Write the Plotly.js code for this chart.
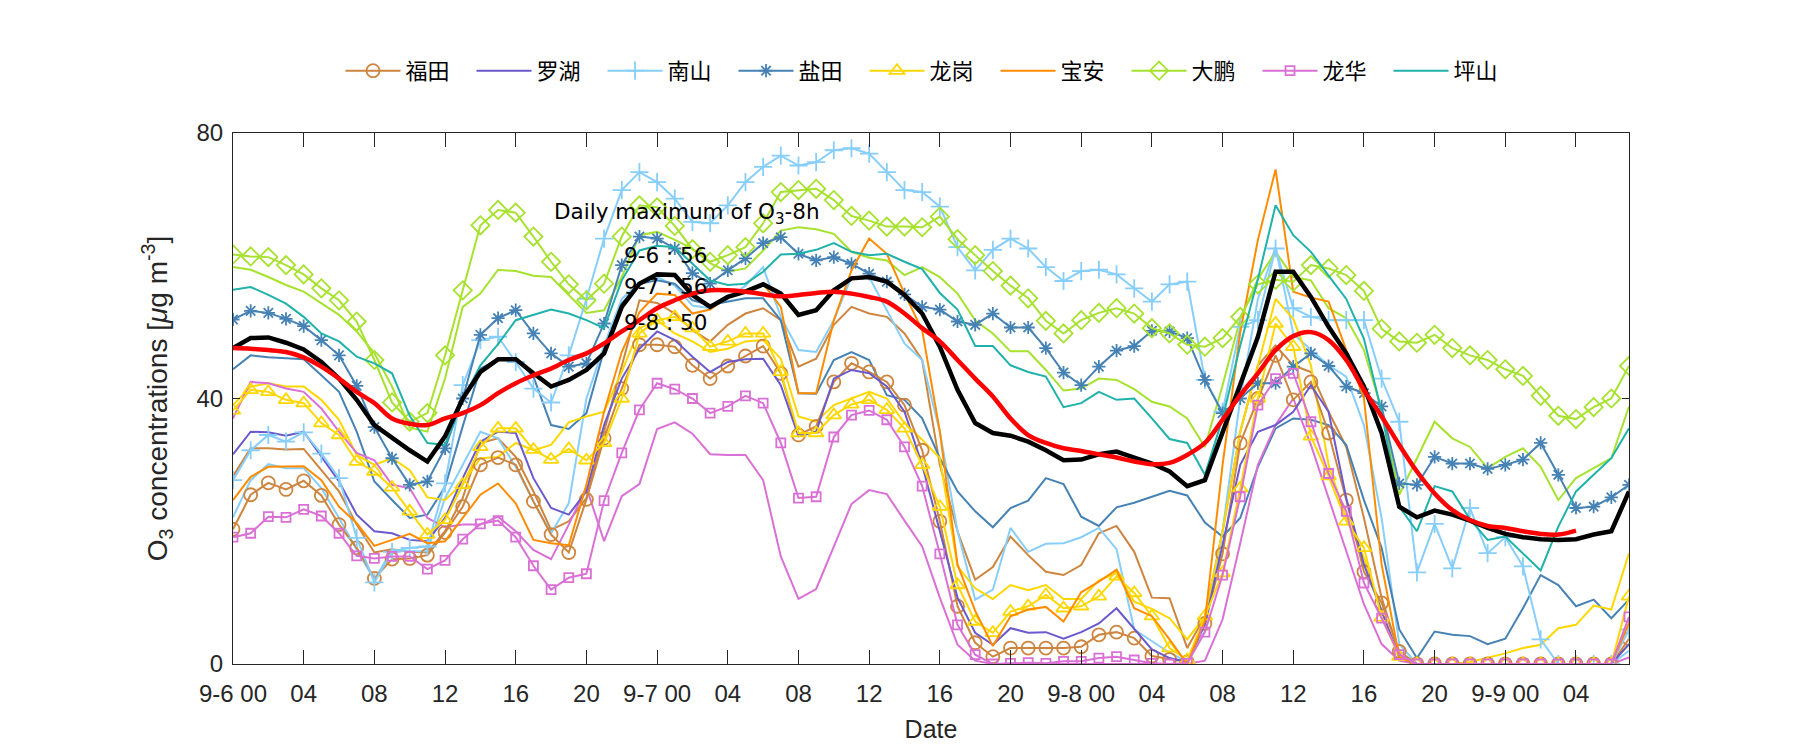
<!DOCTYPE html>
<html><head><meta charset="utf-8">
<script src="https://cdn.plot.ly/plotly-3.0.1.min.js"></script>
<style>html,body{margin:0;padding:0;background:#fff;}#chart{width:1800px;height:750px;}</style>
</head><body><div id="chart"></div>
<script>
// hour index since 9-6 00:00
const hours = [0,1,2,3,4,5,6,7,8,9,10,11,12,13,14,15,16,17,18,19,20,21,22,23,24,25,26,27,28,29,30,31,32,33,34,35,36,37,38,39,40,41,42,43,44,45,46,47,48,49,50,51,52,53,54,55,56,57,58,59,60,61,62,63,64,65,66,67,68,69,70,71,72,73,74,75,76,77,78,79];
const tickHours = [0,4,8,12,16,20,24,28,32,36,40,44,48,52,56,60,64,68,72,76];
const tickLabels = ['9-6 00','04','08','12','16','20','9-7 00','04','08','12','16','20','9-8 00','04','08','12','16','20','9-9 00','04'];
const stations = ['福田','罗湖','南山','盐田','龙岗','宝安','大鹏','龙华','坪山'];

// station series (legend)
const futian = [20.3,25.5,27.3,26.3,27.6,25.4,21.0,17.5,12.9,15.8,15.9,16.4,19.8,23.7,30.0,31.1,30.0,24.5,19.5,16.8,24.8,34.0,41.5,48.1,48.1,47.8,45.0,43.0,44.9,46.4,47.9,43.8,34.5,35.8,42.5,45.3,44.0,42.5,39.0,32.2,21.5,8.7,3.2,1.1,2.4,2.4,2.4,2.4,2.6,4.4,4.8,3.9,1.2,0.7,0.3,6.1,16.6,33.3,40.0,46.5,39.8,42.5,34.8,24.7,13.9,9.2,1.9,0,0,0,0,0,0,0,0,0,0,0,0,3.8];
const luohu = [31.6,35.0,34.9,34.4,35.0,31.2,27.5,22.5,20.0,19.7,18.7,18.5,22.0,28.0,33.5,35.0,34.8,28.0,23.5,22.5,26.0,36.0,43.0,47.5,50.1,48.8,46.3,44.0,45.5,45.9,46.0,42.0,34.3,35.0,43.0,44.3,43.8,41.8,38.0,30.0,20.0,10.0,4.7,2.9,5.4,4.7,4.8,3.8,4.8,6.1,8.4,5.3,2.2,0.9,0.3,6.0,18.0,30.0,35.0,36.0,38.0,42.0,38.0,25.0,15.0,8.0,1.0,0,0,0,0,0,0,0,0,0,0,0,0,3.0];
const nanshan = [27.7,32.2,34.5,33.5,34.9,31.7,28.0,19.0,12.3,16.9,17.5,17.7,27.2,42.0,48.8,49.3,45.5,41.5,39.4,46.5,55.0,64.1,71.4,74.1,72.6,70.1,66.6,66.4,69.1,72.6,74.9,76.6,75.1,75.6,77.4,77.7,76.9,74.1,71.4,71.1,68.9,62.8,59.3,62.4,64.1,62.6,59.8,57.7,59.2,59.4,58.7,56.6,54.6,57.2,57.6,42.8,38.0,50.8,51.8,62.6,53.6,52.3,51.8,51.8,51.8,43.0,36.5,13.8,21.1,14.4,23.5,16.7,19.1,14.7,3.7,0,0,0,0,5.2];
const yantian = [51.9,53.2,52.9,52.0,50.9,48.8,46.5,41.9,35.7,31.0,27.0,27.5,32.5,40.0,49.6,52.1,53.3,49.8,46.8,44.8,45.3,51.3,60.1,64.4,64.1,62.6,58.9,57.3,59.3,61.1,63.4,64.3,61.8,60.8,61.3,60.3,58.8,57.6,55.7,53.8,53.4,51.6,51.1,52.8,50.7,50.7,47.6,43.9,42.0,44.8,47.2,47.9,50.2,50.1,49.1,42.8,37.8,40.0,42.3,42.3,44.8,46.8,44.9,41.8,40.8,38.8,27.2,27.0,31.2,30.2,30.2,29.4,30.0,30.8,33.3,28.5,23.5,23.7,25.1,27.0];
const longgang = [38.2,41.3,41.0,39.8,39.3,36.3,34.5,30.5,29.0,26.6,23.0,19.5,21.7,27.0,32.7,35.5,35.5,32.3,30.8,32.4,30.7,33.3,40.0,49.8,51.8,52.3,50.6,47.8,48.6,49.8,49.8,44.0,34.8,34.8,37.5,39.1,39.8,38.3,35.5,30.0,23.7,11.9,6.4,4.7,7.9,8.7,10.4,8.4,8.7,10.2,13.2,10.7,7.2,2.4,0.6,7.2,13.7,26.5,40.0,51.3,47.8,34.3,28.3,21.5,17.5,7.0,1.1,0,0,0,0,0,0,0,0,0,0,0,0,10.2];
const baoan = [24.7,28.2,29.7,29.7,29.8,27.7,23.7,21.2,17.8,18.7,19.6,18.2,18.5,22.0,25.5,27.2,24.2,18.7,18.2,17.9,27.0,38.0,47.0,53.0,55.8,55.6,52.8,53.4,55.3,56.3,57.3,53.8,40.8,40.8,51.8,59.3,64.1,61.8,55.8,50.3,35.0,15.0,8.0,2.7,7.2,8.2,8.6,6.4,10.8,12.4,14.2,8.4,7.2,3.7,0,6.5,30.0,50.0,63.9,74.5,56.1,55.2,54.6,47.3,40.0,15.0,1.0,0,0,0,0,0,0,0,0,0,0,0,0,6.2];
const dapeng = [61.7,61.4,61.3,60.1,58.7,56.6,54.8,51.6,45.8,39.4,36.5,37.8,46.5,56.3,66.1,68.4,68.0,64.4,60.6,57.2,54.8,57.3,64.4,69.1,68.8,66.0,62.5,60.6,61.6,62.8,66.4,71.1,71.4,71.6,69.9,67.5,66.8,65.9,65.9,65.8,67.4,64.0,61.6,59.2,57.0,55.1,51.7,49.8,51.8,52.9,53.6,52.8,50.6,49.8,48.1,47.8,49.1,52.3,57.2,57.9,57.6,60.1,59.6,58.6,56.2,50.5,48.6,48.4,49.6,47.6,46.5,45.8,44.4,43.4,40.4,37.4,36.9,38.7,40.0,44.9];
const longhua = [19.1,19.7,22.2,22.1,23.3,22.3,19.7,16.3,15.9,16.2,16.2,14.3,15.6,18.8,21.1,21.6,19.1,14.8,11.2,13.0,13.6,24.6,31.8,38.3,42.3,41.4,40.0,37.8,38.8,40.4,39.3,33.3,25.0,25.2,34.2,37.5,38.2,36.8,32.7,26.8,16.6,5.9,1.4,0,0.1,0.2,0.1,0.4,0.4,0.9,1.1,0.6,0.1,0,0.1,4.8,13.4,25.2,39.0,43.0,43.8,36.5,28.7,23.0,12.2,6.9,1.4,0,0,0,0,0,0,0,0,0,0,0,0,7.1];
const pingshan = [56.4,56.8,55.6,54.3,52.3,49.8,48.6,46.3,45.3,43.8,37.4,33.3,33.0,39.8,45.0,48.2,51.8,52.6,53.4,52.8,51.8,50.6,57.8,62.3,63.0,62.8,60.3,57.8,57.1,57.3,59.1,61.7,61.8,62.4,63.4,62.1,61.6,61.8,60.6,59.5,55.9,53.4,47.9,47.9,45.0,44.0,43.3,38.7,39.3,41.0,39.8,40.0,37.0,33.9,33.3,28.5,37.0,48.0,58.0,69.1,64.6,62.1,58.5,55.0,49.0,38.0,23.7,20.0,26.8,26.0,21.8,18.7,19.2,16.7,14.1,20.7,26.0,28.5,31.0,35.5];

// second (unmarked) curves
const futian2 = [28.3,32.5,32.5,32.3,32.4,29.2,26.0,21.0,16.8,17.3,16.9,16.8,20.0,25.0,33.3,34.0,31.2,26.0,20.2,21.5,25.0,35.0,45.0,54.8,54.4,52.8,50.3,48.6,51.1,52.8,53.6,51.8,44.8,46.0,51.1,53.8,52.8,52.3,49.8,45.8,30.0,20.0,12.7,14.6,19.2,16.4,13.9,13.4,14.9,19.7,20.8,16.9,10.0,9.9,2.4,7.2,20.0,35.0,45.0,48.0,45.0,44.0,38.0,32.7,22.0,10.0,1.5,0,0,0,0,0,0,0,0,0,0,0,0,3.0];
const nanshan2 = [22.1,27.7,30.1,29.5,29.5,26.5,22.0,17.2,12.7,17.2,17.0,17.0,25.0,30.0,35.0,34.0,29.7,24.5,19.7,24.2,40.0,48.0,55.0,57.5,58.3,57.0,54.0,53.6,55.0,57.0,59.8,52.3,47.3,47.0,51.8,58.3,58.3,53.3,48.3,45.8,35.0,20.0,9.7,11.2,20.5,16.9,18.1,18.2,19.1,20.5,17.3,5.2,3.4,1.7,0.3,5.0,20.0,40.0,55.0,62.8,49.8,47.3,45.0,43.3,36.0,22.0,3.0,0,0,0,0,0,0,0,0,0,0,0,0,2.0];
const yantian2 = [44.4,46.5,46.2,46.0,45.9,43.5,41.0,35.0,27.5,24.7,22.0,22.5,26.7,35.8,44.5,45.9,46.0,43.3,36.0,35.4,37.8,47.3,54.3,57.3,57.8,57.3,54.8,54.1,54.6,55.1,55.1,51.8,40.8,40.7,45.8,47.0,45.8,40.5,39.8,37.0,31.0,26.0,23.0,20.6,23.5,24.6,28.0,27.1,22.2,20.8,23.6,24.3,25.2,26.1,25.4,21.3,19.2,22.0,29.7,35.5,37.0,36.8,36.0,33.0,24.7,17.5,5.2,0.9,4.9,4.4,4.2,3.0,3.8,8.4,13.4,11.9,8.7,9.7,6.9,9.7];
const longgang2 = [39.0,41.8,42.3,41.8,41.8,39.8,36.8,31.5,30.0,31.0,29.2,25.1,24.7,27.2,31.0,31.2,33.3,32.2,33.0,36.4,37.3,38.0,44.0,50.6,51.8,49.8,48.6,47.0,47.5,48.6,48.8,46.0,37.3,36.5,39.0,40.0,41.0,40.0,36.3,33.8,31.0,14.7,11.4,9.8,11.9,11.1,11.9,9.8,9.8,12.6,13.7,9.4,8.3,6.9,3.7,7.2,20.0,35.0,45.0,55.0,52.0,45.0,30.0,22.0,16.0,8.0,1.0,0,0,0,0.3,0.9,1.6,2.4,2.9,5.4,5.9,8.8,8.2,16.7];
const dapeng2 = [59.8,59.4,58.3,57.1,56.1,54.3,52.6,50.1,46.8,41.8,35.6,35.0,43.0,53.8,55.8,59.4,59.2,58.5,58.3,55.6,52.9,53.3,58.3,64.6,65.1,63.9,62.6,60.4,59.1,59.6,62.3,65.3,65.8,65.5,64.8,62.1,61.2,60.8,58.6,59.8,58.3,55.8,51.8,49.8,47.1,47.1,44.3,41.2,41.5,43.0,42.8,41.4,39.5,38.8,37.0,32.7,42.0,52.0,58.0,62.1,58.3,57.8,53.6,52.1,47.3,38.3,25.5,31.0,36.5,34.0,32.7,29.5,31.2,32.5,29.7,24.7,28.0,29.5,31.0,38.8];
const longhua2 = [37.0,42.5,42.3,41.5,41.0,38.5,35.0,31.8,30.7,27.0,26.5,22.0,20.6,21.0,21.0,22.2,20.0,17.2,15.8,21.0,26.6,18.5,25.3,27.1,35.4,36.4,34.7,31.6,31.5,31.5,27.7,16.2,9.8,11.3,17.7,24.1,26.2,25.6,21.6,17.7,10.0,2.9,0.5,0,0,0,0,0,0,0,0,0,0,0,0,0.5,6.7,18.2,30.0,36.0,40.0,33.0,25.0,17.0,9.0,3.0,0.5,0,0,0,0,0,0,0,0,0,0,0,0,1.0];

// thick summary curves
const meanLine = [47.6,49.1,49.2,48.4,47.4,45.5,43.0,39.8,36.0,34.0,32.2,30.5,34.3,40.0,44.0,45.9,45.9,43.8,41.8,42.8,44.3,46.8,53.8,57.3,58.7,58.6,55.6,53.8,55.3,56.1,57.2,55.8,52.6,53.3,56.3,58.1,58.3,57.6,55.6,52.8,47.8,41.3,36.3,34.8,34.4,33.5,32.2,30.7,30.8,31.6,32.0,31.1,30.2,29.0,26.8,27.7,34.8,42.0,49.3,59.1,59.1,55.3,50.8,46.8,41.8,34.8,23.7,22.1,23.1,22.5,21.6,20.5,19.6,19.1,18.8,18.7,18.8,19.5,20.0,26.0];
const smoothLine = [47.6,47.5,47.3,47.0,46.2,44.8,43.0,41.0,39.3,37.0,36.2,36.0,37.0,37.8,39.0,40.8,42.3,43.5,44.5,45.8,46.8,48.3,50.1,51.8,53.6,54.8,55.8,56.3,56.3,56.1,55.7,55.4,55.6,55.9,56.1,55.8,55.3,54.6,52.8,50.6,48.6,45.8,43.0,40.3,37.0,34.5,33.3,32.5,32.1,31.6,31.1,30.5,30.1,30.3,31.5,33.3,36.8,40.5,43.8,47.3,49.4,50.0,48.8,45.8,41.3,37.3,33.0,29.0,25.7,23.2,21.7,20.8,20.5,20.0,19.6,19.5,20.1,null,null,null];

const dailyMaxTitle = 'Daily maximum of O<sub>3</sub>-8h';
const dailyMaxLabels = ['9-6 : 56','9-7 : 56','9-8 : 50'];

const colors = ['#CD853F','#6A5ACD','#87CEFA','#4682B4','#FFD700','#FF8C00','#A6E22E','#DA70D6','#20B2AA'];
const symbols = ['circle-open',null,'cross-thin-open','asterisk-open','triangle-up-open',null,'diamond-open','square-open',null];
const msizes = [13,0,13,11,13,0,14,9,0];
const mainData = [futian,luohu,nanshan,yantian,longgang,baoan,dapeng,longhua,pingshan];
const extraData = [[futian2,0],[nanshan2,2],[yantian2,3],[longgang2,4],[dapeng2,6],[longhua2,7]];

const traces = [];
extraData.forEach(([d,ci])=>{
  traces.push({x:hours,y:d,type:'scatter',mode:'lines',showlegend:false,hoverinfo:'skip',
    line:{color:colors[ci],width:2}});
});
mainData.forEach((d,i)=>{
  const t = {x:hours,y:d,type:'scatter',name:stations[i],line:{color:colors[i],width:2}};
  if(symbols[i]){ t.mode='lines+markers'; t.marker={symbol:symbols[i],size:msizes[i],color:colors[i],line:{color:colors[i],width:1.8}}; }
  else t.mode='lines';
  traces.push(t);
});
traces.push({x:hours,y:meanLine,type:'scatter',mode:'lines',showlegend:false,line:{color:'#000000',width:4.5}});
traces.push({x:hours,y:smoothLine,type:'scatter',mode:'lines',showlegend:false,line:{color:'#FF0000',width:4.5,shape:'spline'}});

const FONT = 'Liberation Sans, Arial, Noto Sans CJK SC, sans-serif';
const ANN = 'DejaVu Sans, sans-serif';
const annFont = {family:ANN,size:21.5,color:'#000'};
const layout = {
  width:1800,height:750,
  margin:{l:233,r:171,t:133,b:86},
  paper_bgcolor:'#ffffff',plot_bgcolor:'#ffffff',
  font:{family:FONT,size:24,color:'#262626'},
  showlegend:true,
  legend:{orientation:'h',x:0.4993,xanchor:'center',y:1.117,yanchor:'middle',
    font:{family:'Noto Sans CJK SC, sans-serif',size:22,color:'#000'},
    itemwidth:55,entrywidth:61,bgcolor:'rgba(0,0,0,0)'},
  xaxis:{range:[0,79],tickmode:'array',tickvals:tickHours,ticktext:tickLabels,
    ticks:'inside',ticklen:14,tickcolor:'#262626',tickwidth:1,ticklabelstandoff:8,
    showline:true,linecolor:'#262626',linewidth:1,mirror:'ticks',
    showgrid:false,zeroline:false,tickfont:{size:24,color:'#262626'},
    title:{text:'Date',font:{size:25,color:'#262626'},standoff:14}},
  yaxis:{range:[0,80],tickmode:'array',tickvals:[0,40,80],
    ticks:'inside',ticklen:7,tickcolor:'#262626',tickwidth:1,ticklabelstandoff:4,
    showline:true,linecolor:'#262626',linewidth:1,mirror:'ticks',
    showgrid:false,zeroline:false,tickfont:{size:24,color:'#262626'},
    title:{text:'O<sub>3</sub> concentrations [<i>μ</i>g m<sup>-3</sup>]',font:{size:28,color:'#262626'},standoff:20}},
  annotations:[
    {x:18.08,y:67.8,xref:'x',yref:'y',text:dailyMaxTitle,showarrow:false,xanchor:'left',yanchor:'middle',font:annFont},
    {x:22.04,y:61.6,xref:'x',yref:'y',text:dailyMaxLabels[0],showarrow:false,xanchor:'left',yanchor:'middle',font:annFont},
    {x:22.04,y:56.8,xref:'x',yref:'y',text:dailyMaxLabels[1],showarrow:false,xanchor:'left',yanchor:'middle',font:annFont},
    {x:22.04,y:51.5,xref:'x',yref:'y',text:dailyMaxLabels[2],showarrow:false,xanchor:'left',yanchor:'middle',font:annFont}
  ]
};
Plotly.newPlot('chart',traces,layout,{displayModeBar:false,staticPlot:true});
</script></body></html>
